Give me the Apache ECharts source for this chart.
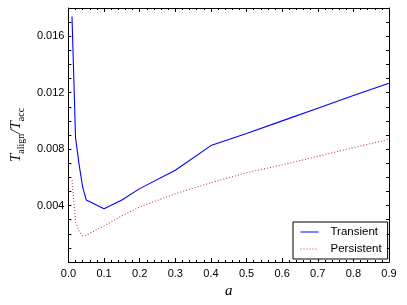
<!DOCTYPE html>
<html>
<head>
<meta charset="utf-8">
<script src="https://cdn.jsdelivr.net/npm/echarts@6/dist/echarts.min.js"></script>
<style>
  html, body { margin: 0; padding: 0; background: #fff; }
  #chart { width: 407px; height: 305px; }
</style>
</head>
<body>
<div id="chart"></div>
<script>
// values
var aValues = [0.01, 0.02, 0.03, 0.04, 0.05, 0.1, 0.15, 0.2, 0.3, 0.4, 0.5, 0.6, 0.7, 0.8, 0.9];
var transient = [0.0174, 0.0088, 0.0069, 0.0053, 0.0044, 0.00377, 0.0044, 0.0052, 0.0065, 0.00825, 0.0091, 0.0100, 0.0109, 0.0118, 0.01266];
var persistent = [0.0058, 0.00285, 0.0022, 0.00185, 0.0019, 0.00256, 0.00327, 0.0039, 0.00484, 0.00562, 0.00633, 0.00688, 0.00749, 0.0081, 0.0087];
var yTickLabels = [0.004, 0.008, 0.012, 0.016];

var fontSans = 'Liberation Sans, Arial, sans-serif';
var fontSerif = 'Liberation Serif, DejaVu Serif, serif';

function pairs(xs, ys) {
    var res = [];
    for (var i = 0; i < xs.length; i++) res.push([xs[i], ys[i]]);
    return res;
}

var chart = echarts.init(document.getElementById('chart'), null, { renderer: 'canvas' });

var xBase = {
    type: 'value',
    min: 0,
    max: 0.9,
    interval: 0.1,
    axisLine: { show: true, onZero: false, lineStyle: { color: '#000', width: 1 } },
    axisTick: { show: true, inside: true, length: 4, lineStyle: { color: '#000' } },
    minorTick: { show: true, splitNumber: 5, length: 2, lineStyle: { color: '#000' } },
    splitLine: { show: false }
};
var yBase = {
    type: 'value',
    min: 0,
    max: 0.018,
    interval: 0.001,
    axisLine: { show: true, onZero: false, lineStyle: { color: '#000', width: 1 } },
    axisTick: { show: true, inside: true, length: 3, lineStyle: { color: '#000' } },
    splitLine: { show: false }
};

var option = {
    animation: false,
    backgroundColor: '#fff',
    grid: { left: 65, right: 18, top: 8, bottom: 43 },
    xAxis: [
        Object.assign({}, xBase, {
            position: 'bottom',
            name: 'a',
            nameLocation: 'middle',
            nameGap: 21,
            nameTextStyle: { fontFamily: fontSerif, fontStyle: 'italic', fontSize: 15, color: '#000' },
            axisLabel: {
                margin: 6,
                fontFamily: fontSans, fontSize: 11, color: '#000',
                formatter: function (v) { return v.toFixed(1); }
            }
        }),
        Object.assign({}, xBase, { position: 'top', axisLabel: { show: false } })
    ],
    yAxis: [
        Object.assign({}, yBase, {
            position: 'left',
            name: '{it|T}{sub|align}{it|/T}{sub|acc}',
            nameLocation: 'middle',
            nameGap: 37,
            nameTextStyle: {
                color: '#000',
                rich: {
                    it: { fontFamily: fontSerif, fontStyle: 'italic', fontSize: 15, color: '#000', lineHeight: 20, verticalAlign: 'middle' },
                    sub: { fontFamily: fontSerif, fontSize: 10, color: '#000', lineHeight: 20, verticalAlign: 'bottom', padding: [8, 0, 0, 0] }
                }
            },
            axisLabel: {
                margin: 4,
                fontFamily: fontSans, fontSize: 11, color: '#000',
                formatter: function (v) {
                    for (var i = 0; i < yTickLabels.length; i++) {
                        if (Math.abs(v - yTickLabels[i]) < 1e-7) return yTickLabels[i].toFixed(3);
                    }
                    return '';
                }
            }
        }),
        Object.assign({}, yBase, { position: 'right', axisLabel: { show: false } })
    ],
    legend: {
        orient: 'vertical',
        left: 293,
        top: 222,
        width: 96,
        padding: [4, 6, 4, 7],
        itemGap: 5,
        itemWidth: 18,
        itemHeight: 12,
        backgroundColor: '#fff',
        borderColor: '#000',
        borderWidth: 1,
        borderRadius: 0,
        itemStyle: { opacity: 0 },
        lineStyle: { width: 1 },
        textStyle: { fontFamily: fontSans, fontSize: 11.5, color: '#000', padding: [0, 0, 0, 7] },
        data: ['Transient', 'Persistent']
    },
    series: [
        {
            name: 'Transient',
            type: 'line',
            data: pairs(aValues, transient),
            symbol: 'none',
            lineStyle: { color: '#0000ff', width: 1.1 },
            itemStyle: { color: '#0000ff' }
        },
        {
            name: 'Persistent',
            type: 'line',
            data: pairs(aValues, persistent),
            symbol: 'none',
            lineStyle: { color: '#c03c3c', width: 1.1, type: [1, 2] },
            itemStyle: { color: '#c03c3c' }
        }
    ]
};

chart.setOption(option);
</script>
</body>
</html>
